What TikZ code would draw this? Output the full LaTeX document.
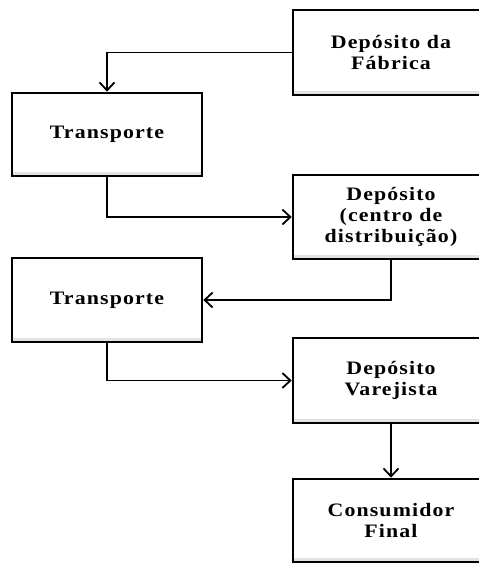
\documentclass[tikz,border=0pt]{standalone}
\usepackage{fontspec}
\setmainfont{Liberation Serif}[FakeStretch=1.15,LetterSpace=6]
\usetikzlibrary{arrows.meta}
\tikzset{
  box/.style={draw=black, line width=2.6pt, fill=white, align=center,
    font=\fontsize{19}{21}\selectfont\bfseries, inner sep=0pt,
    path picture={\fill[gray!22] ([yshift=1.3pt]path picture bounding box.south west) rectangle ([yshift=4pt]path picture bounding box.south east);}},
  lbox/.style={box, minimum width=190pt, minimum height=83pt},
  rbox/.style={box, minimum width=196pt, minimum height=84pt},
  conn/.style={line width=1.8pt, -{Straight Barb[length=8pt,width=15pt,line width=1.8pt]}}
}
\begin{document}
\begin{tikzpicture}[x=1pt,y=-1pt]
\useasboundingbox (0,0) rectangle (479,563);
\node[rbox, minimum height=85pt] (fab) at (391,52.5) {Depósito da\\Fábrica};
\node[lbox] (t1) at (107,134.5) {Transporte};
\node[rbox] (dep) at (391,217) {Depósito\\(centro de\\distribuição)};
\node[lbox, minimum height=84pt] (t2) at (107,300) {Transporte};
\node[rbox, minimum height=85pt] (var) at (391,380.5) {Depósito\\Varejista};
\node[rbox, minimum height=83pt] (cons) at (391,520.5) {Consumidor\\Final};
\draw[conn] (fab.west) -| (t1.north);
\draw[conn] (t1.south) |- (dep.west);
\draw[conn] (dep.south) |- (t2.east);
\draw[conn] (t2.south) |- (var.west);
\draw[conn] (var.south) -- (cons.north);
\end{tikzpicture}
\end{document}
